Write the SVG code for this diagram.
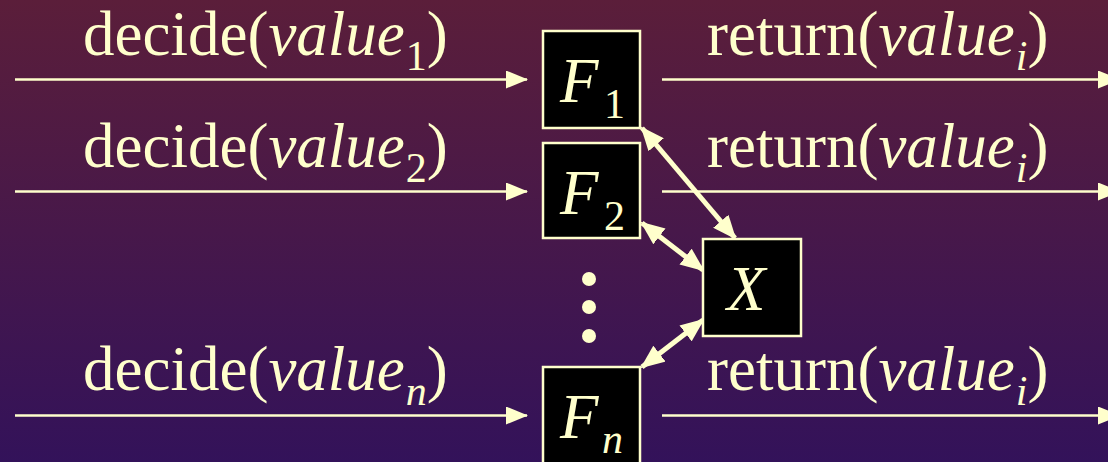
<svg xmlns="http://www.w3.org/2000/svg" width="1108" height="462" viewBox="0 0 1108 462">
<defs>
<linearGradient id="bg" x1="0" y1="0" x2="0" y2="1">
<stop offset="0" stop-color="#5b1e3a"/>
<stop offset="1" stop-color="#33125a"/>
</linearGradient>
<marker id="ah" markerUnits="userSpaceOnUse" markerWidth="22" markerHeight="18" viewBox="0 0 22 18" refX="21" refY="9" orient="auto">
<path d="M0,0 L22,9 L0,18 z" fill="#ffffcc"/>
</marker>
<marker id="bh" markerUnits="userSpaceOnUse" markerWidth="24" markerHeight="20" viewBox="0 0 24 20" refX="22" refY="10" orient="auto-start-reverse">
<path d="M0,0 L24,10 L0,20 z" fill="#ffffcc"/>
</marker>
</defs>
<style>
.t{font-family:"Liberation Serif","Times New Roman",serif;font-size:63px;fill:#ffffcc}
.i{font-style:italic}
.s{font-size:42px}
.box{fill:#000;stroke:#ffffcc;stroke-width:2.5}
.ln{stroke:#ffffcc;stroke-width:2.5;fill:none}
.bl{stroke:#ffffcc;stroke-width:5;fill:none}
</style>
<rect width="1108" height="462" fill="url(#bg)"/>

<g id="connectors">
<line class="ln" x1="15" y1="79.5" x2="527" y2="79.5" marker-end="url(#ah)"/>
<line class="ln" x1="15" y1="191.5" x2="527" y2="191.5" marker-end="url(#ah)"/>
<line class="ln" x1="15" y1="415.5" x2="527" y2="415.5" marker-end="url(#ah)"/>
<line class="ln" x1="662" y1="79.5" x2="1119" y2="79.5" marker-end="url(#ah)"/>
<line class="ln" x1="662" y1="191.5" x2="1119" y2="191.5" marker-end="url(#ah)"/>
<line class="ln" x1="662" y1="415.5" x2="1119" y2="415.5" marker-end="url(#ah)"/>
<line class="bl" x1="642" y1="128" x2="735" y2="238" marker-start="url(#bh)" marker-end="url(#bh)"/>
<line class="bl" x1="642" y1="223" x2="703" y2="270" marker-start="url(#bh)" marker-end="url(#bh)"/>
<line class="bl" x1="703" y1="320" x2="642" y2="367" marker-start="url(#bh)" marker-end="url(#bh)"/>
</g>

<g id="label-decide1"><text class="t" x="83" y="55">decide(<tspan class="i">value</tspan><tspan class="s" dx="1" dy="15">1</tspan><tspan dy="-15">)</tspan></text></g>
<g id="label-decide2"><text class="t" x="83" y="167">decide(<tspan class="i">value</tspan><tspan class="s" dx="1" dy="15">2</tspan><tspan dy="-15">)</tspan></text></g>
<g id="label-deciden"><text class="t" x="83" y="390">decide(<tspan class="i">value</tspan><tspan class="s i" dx="1" dy="15">n</tspan><tspan dy="-15">)</tspan></text></g>
<g id="label-return1"><text class="t" x="707" y="55">return(<tspan class="i">value</tspan><tspan class="s i" dx="1" dy="15">i</tspan><tspan dy="-15">)</tspan></text></g>
<g id="label-return2"><text class="t" x="707" y="167">return(<tspan class="i">value</tspan><tspan class="s i" dx="1" dy="15">i</tspan><tspan dy="-15">)</tspan></text></g>
<g id="label-returnn"><text class="t" x="707" y="390">return(<tspan class="i">value</tspan><tspan class="s i" dx="1" dy="15">i</tspan><tspan dy="-15">)</tspan></text></g>

<g id="F1"><rect class="box" x="543" y="31" width="97" height="97"/><text class="t" x="560" y="102"><tspan class="i">F</tspan><tspan class="s" x="604" y="118">1</tspan></text></g>
<g id="F2"><rect class="box" x="543" y="143" width="97" height="95"/><text class="t" x="560" y="214"><tspan class="i">F</tspan><tspan class="s" x="604" y="230">2</tspan></text></g>
<g id="Fn"><rect class="box" x="543" y="367" width="97" height="100"/><text class="t" x="560" y="438"><tspan class="i">F</tspan><tspan class="s i" x="602" y="453">n</tspan></text></g>
<g id="X"><rect class="box" x="703" y="239" width="98" height="97"/><text class="t i" x="727" y="310">X</text></g>
<g id="dots">
<circle cx="589" cy="279" r="7" fill="#ffffcc"/>
<circle cx="589" cy="307" r="7" fill="#ffffcc"/>
<circle cx="589" cy="336" r="7" fill="#ffffcc"/>
</g>
</svg>
